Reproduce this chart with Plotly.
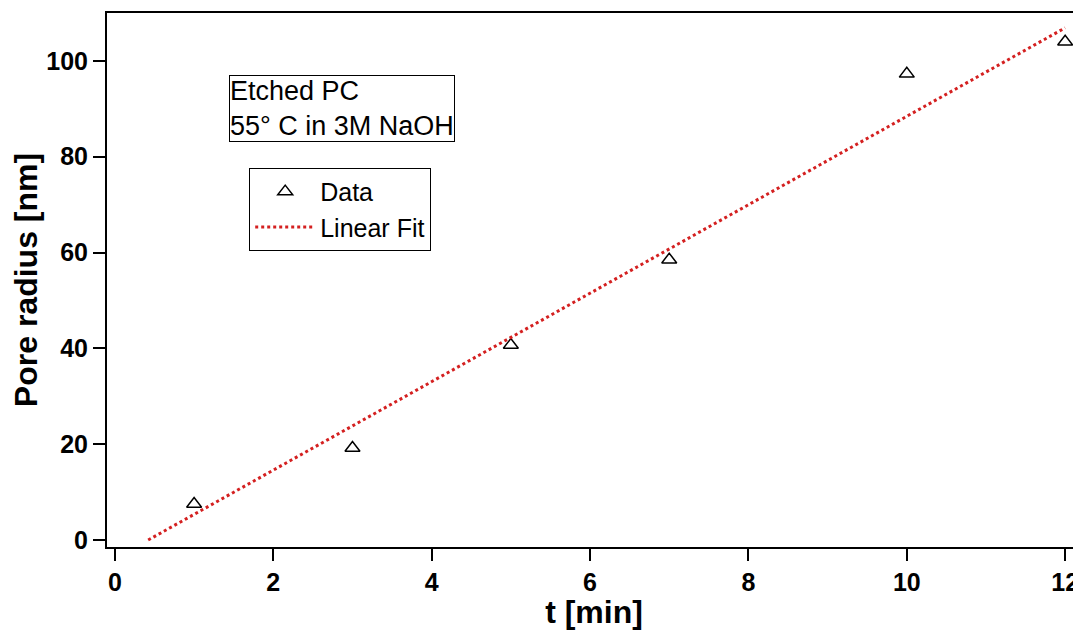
import plotly.graph_objects as go

t_data = [1, 3, 5, 7, 10, 12]
r_data = [7.5, 19.2, 40.7, 58.5, 97.3, 104.0]
fit_t = [0.42, 12.0]
fit_r = [0.0, 106.9]
x_ticks = [0, 2, 4, 6, 8, 10, 12]
y_ticks = [0, 20, 40, 60, 80, 100]

FONT = "Liberation Sans, Arial"

fig = go.Figure()
fig.add_trace(go.Scatter(x=t_data, y=r_data, mode="markers", name="Data",
                         marker=dict(symbol="triangle-up-open", size=13, color="black",
                                     line=dict(width=1.5, color="black"))))
fig.add_trace(go.Scatter(x=fit_t, y=fit_r, mode="lines", name="Linear Fit",
                         line=dict(color="#d42020", width=3, dash="dot")))

axis_common = dict(showline=True, linecolor="black", linewidth=2, mirror=True,
                   ticks="outside", ticklen=12, tickwidth=2, tickcolor="black",
                   showgrid=False, zeroline=False, automargin=False,
                   tickfont=dict(family=FONT, size=25, color="black", weight="bold"))
fig.update_xaxes(range=[-0.1, 12.2], tickvals=x_ticks,
                 title=dict(text="<b>t [min]</b>", font=dict(family=FONT, size=32, color="black"), standoff=10),
                 **axis_common)
fig.update_yaxes(range=[-1.46, 110], tickvals=y_ticks,
                 title=dict(text="<b>Pore radius [nm]</b>", font=dict(family=FONT, size=32, color="black"), standoff=8),
                 **axis_common)

fig.add_annotation(xref="paper", yref="paper", x=0.125, y=0.884, xanchor="left", yanchor="top",
                   text="Etched PC<br>55° C in 3M NaOH", showarrow=False, align="left",
                   font=dict(family=FONT, size=27, color="black"),
                   bordercolor="black", borderwidth=1, borderpad=0, bgcolor="white")

# page body has an 8px margin, so the figure is sized to fill the remaining window
fig.update_layout(width=1073, height=622, plot_bgcolor="white", paper_bgcolor="white",
                  margin=dict(l=99, r=0, t=5, b=83),
                  legend=dict(x=0.146, y=0.71, xanchor="left", yanchor="top",
                              bordercolor="black", borderwidth=1, bgcolor="white",
                              font=dict(family=FONT, size=25, color="black"),
                              tracegroupgap=0, itemwidth=60))
fig.write_html("out.html")
